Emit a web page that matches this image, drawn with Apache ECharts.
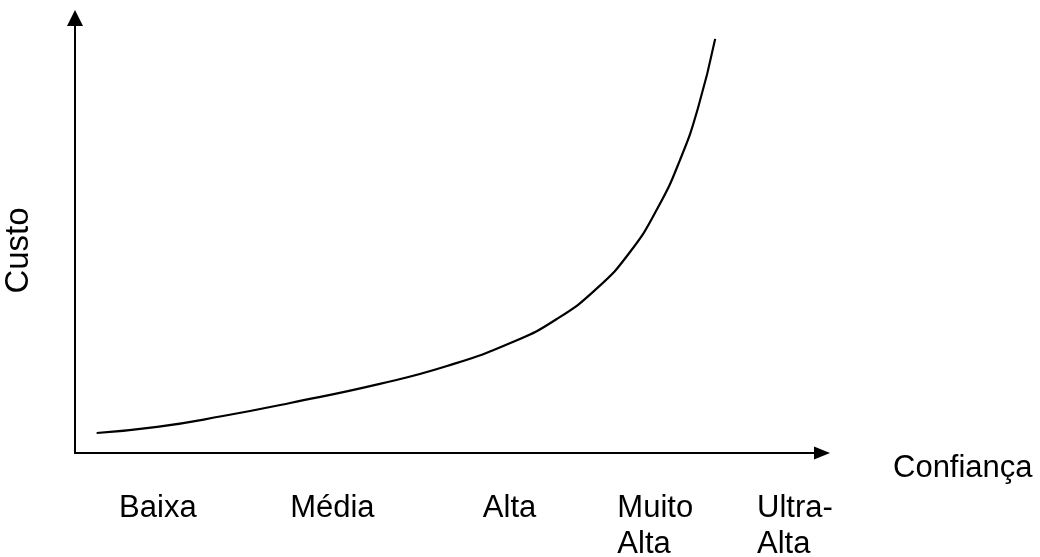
<!DOCTYPE html>
<html>
<head>
<meta charset="utf-8">
<script src="https://cdn.jsdelivr.net/npm/echarts@6/dist/echarts.min.js"></script>
<style>
html,body{margin:0;padding:0;background:#fff;}
#chart{width:1040px;height:557px;}
</style>
</head>
<body>
<div id="chart"></div>
<script>
// Confiança (x) positions and Custo (y) values of the curve
const confianca = [2.9, 11.0, 19.8, 28.8, 40.8, 49.8, 58.6, 64.5, 69.9, 74.3, 78.0, 81.0, 83.4, 85.7];
const custo     = [4.6, 6.0, 8.5, 11.5, 15.9, 20.0, 25.5, 30.8, 37.9, 46.2, 56.3, 67.4, 79.3, 95.2];
// category labels along the x axis and where they sit
const categorias = ['Baixa', 'Média', 'Alta', 'Muito\nAlta', 'Ultra-\nAlta'];
const labelPos   = [5.9, 28.8, 54.6, 72.6, 91.3];

const chart = echarts.init(document.getElementById('chart'));
const font = "'Liberation Sans', Arial, sans-serif";
chart.setOption({
  animation: false,
  backgroundColor: '#fff',
  grid: { left: 75, right: 218, top: 18, bottom: 104, containLabel: false, outerBoundsMode: 'none' },
  xAxis: {
    type: 'value', min: 0, max: 100,
    name: 'Confiança', nameLocation: 'end', nameGap: 71,
    nameTextStyle: { fontFamily: font, fontSize: 31, color: '#000', align: 'left', verticalAlign: 'top' },
    axisLine: { show: true, symbol: ['none', 'triangle'], symbolSize: [13, 16], lineStyle: { color: '#000', width: 2 } },
    axisTick: { show: false },
    splitLine: { show: false },
    axisLabel: {
      customValues: labelPos,
      margin: 37,
      align: 'left',
      verticalAlign: 'top',
      fontFamily: font, fontSize: 31, lineHeight: 36, color: '#000',
      formatter: function (v) {
        let best = 0, d = Infinity;
        labelPos.forEach(function (p, i) { if (Math.abs(p - v) < d) { d = Math.abs(p - v); best = i; } });
        return categorias[best];
      }
    }
  },
  yAxis: {
    type: 'value', min: 0, max: 100,
    name: 'Custo', nameLocation: 'middle', nameGap: 40, nameRotate: 90,
    nameTextStyle: { fontFamily: font, fontSize: 33, color: '#000', padding: [0, 30, 0, 0] },
    axisLine: { show: true, symbol: ['none', 'triangle'], symbolSize: [16, 16], lineStyle: { color: '#000', width: 2 } },
    axisTick: { show: false },
    axisLabel: { show: false },
    splitLine: { show: false }
  },
  series: [{
    type: 'line',
    data: confianca.map(function (x, i) { return [x, custo[i]]; }),
    smooth: 0.5,
    showSymbol: false,
    lineStyle: { color: '#000', width: 2.2 },
    silent: true
  }]
});
</script>
</body>
</html>
